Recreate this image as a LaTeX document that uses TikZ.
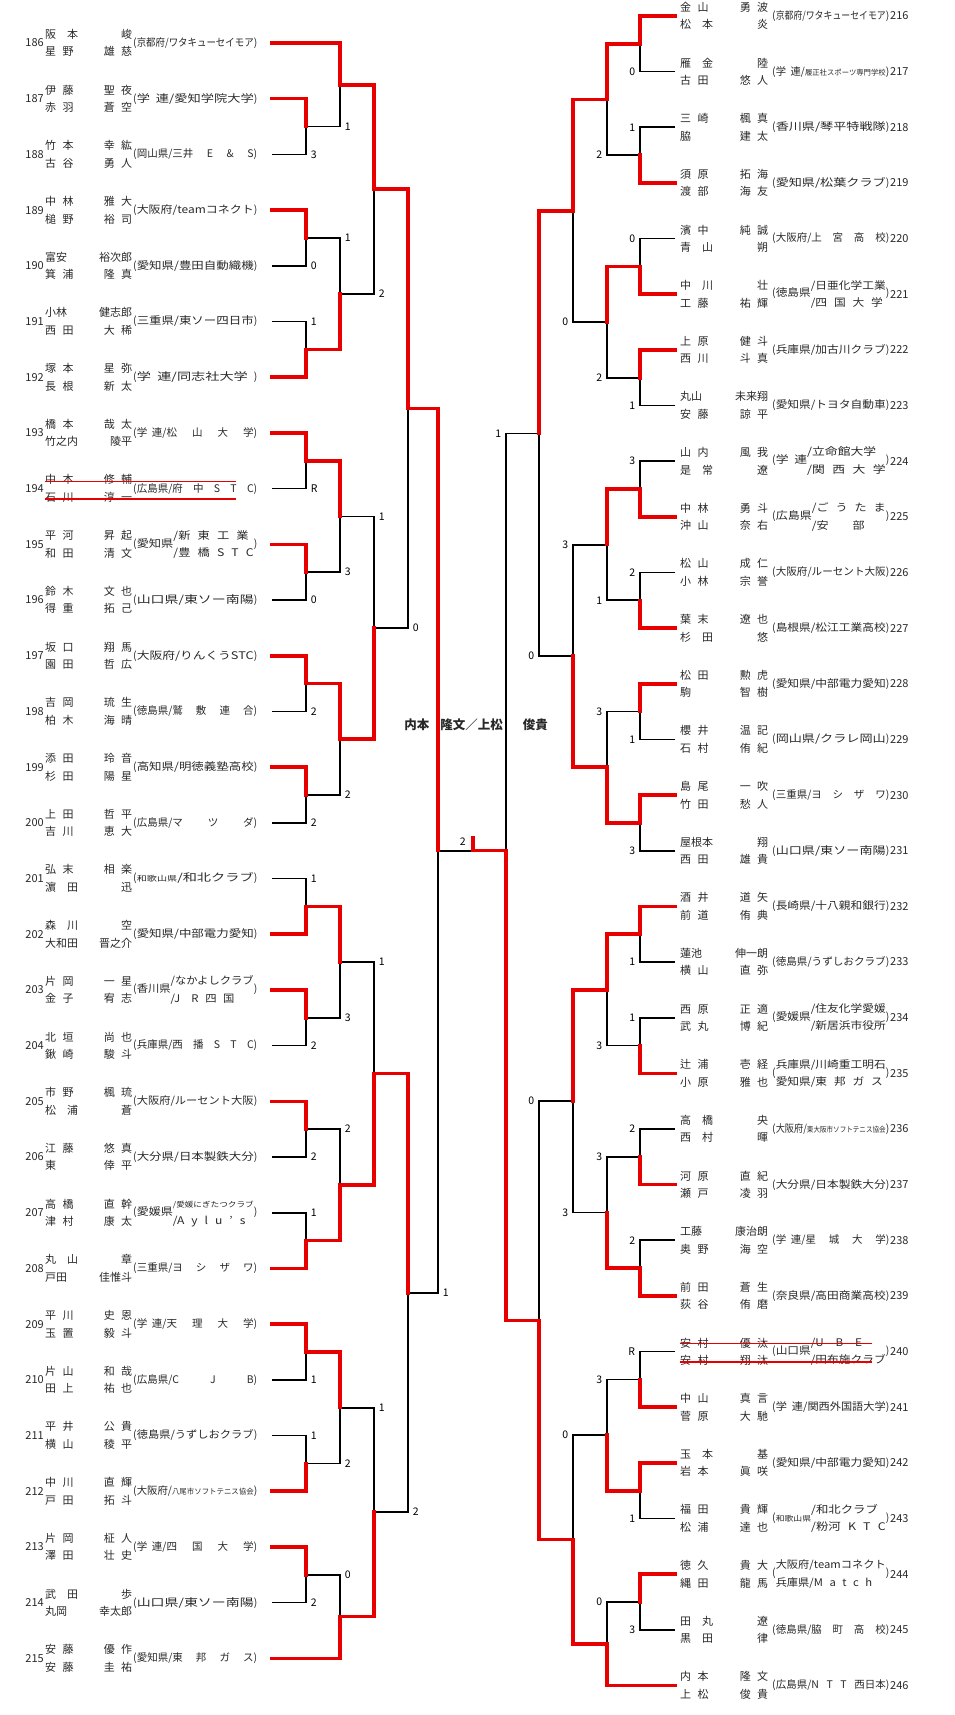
\documentclass[tikz,border=0pt]{standalone}
\usepackage{fontspec}
\usepackage{graphicx}
\setmainfont{Noto Sans CJK JP}[WordSpace=2.6]
\usetikzlibrary{calc}
\definecolor{bred}{RGB}{232,0,0}
\definecolor{ink}{RGB}{40,40,40}
\pgfdeclarelayer{front}
\pgfsetlayers{main,front}
\tikzset{
  win/.style={draw=bred, line width=3.6pt, line cap=rect},
  lose/.style={draw=black, line width=1.7pt},
  num/.style={inner sep=0pt, font=\fontsize{11}{13}\selectfont, text=ink},
  names/.style={inner sep=0pt, anchor=west, align=left,
    font=\fontsize{11}{17.5}\selectfont, text=ink},
  aff/.style={inner sep=0pt, anchor=west,
    font=\fontsize{10.5}{17.5}\selectfont, text=ink},
  scl/.style={anchor=west, inner sep=0pt, xshift=4pt,
    font=\fontsize{10.5}{12}\selectfont},
  scr/.style={anchor=east, inner sep=0pt, xshift=-4pt,
    font=\fontsize{10.5}{12}\selectfont},
  strike/.style={draw=bred, line width=1.4pt},
  champ/.style={inner sep=0pt, font=\fontsize{12.5}{14}\selectfont\bfseries, text=ink}
}
% affiliation squeezed, spread or widened to a fixed width
\newsavebox\fitbox
\newdimen\fitdim
\def\spchk#1 #2\spend{\def\spres{#2}}
\newcommand\fitw[2]{\sbox\fitbox{#2}\spchk#2 \spend
  \ifdim\wd\fitbox>#1\relax\resizebox{#1}{\height}{\usebox\fitbox}%
  \else\ifx\spres\empty
    \fitdim=1.35\wd\fitbox \ifdim\fitdim>#1\relax\fitdim=#1\relax\fi
    \makebox[#1][l]{\resizebox{\fitdim}{\height}{\usebox\fitbox}}%
  \else\makebox[#1][s]{#2}\fi\fi}
\newcommand\twol[2]{\begin{tabular}{@{}l@{}}#1\\#2\end{tabular}}
\newcommand\tinyaff[1]{{\fontsize{7.5}{8}\selectfont #1}}
\newcommand\gk{学\hspace{.45em}連}
% left entry: number, names, club
\newcommand\lent[6]{%
  \pgfmathsetmacro\yy{43+55.7*(#1-186)}
  \node[num, anchor=east] (no#1) at (44,\yy) {#1};
  \node[names] (nm#1) at (45,\yy)
    {\makebox[87pt][l]{#2\hfill #3}\\\makebox[87pt][l]{#4\hfill #5}};
  \node[aff] (af#1) at (133,\yy) {(\fitw{117pt}{#6})};
  \coordinate (e#1) at (272,\yy);
}
% right entry
\newcommand\rent[6]{%
  \pgfmathsetmacro\yy{16+55.65*(#1-216)}
  \node[names] (nm#1) at (680,\yy)
    {\makebox[88pt][l]{#2\hfill #3}\\\makebox[88pt][l]{#4\hfill #5}};
  \node[aff] (af#1) at (772,\yy) {(\fitw{110pt}{#6})};
  \node[num, anchor=west] (no#1) at (890,\yy) {#1};
  \coordinate (e#1) at (675,\yy);
}
% match: level, name, winner, loser, score
\newcommand\mtl[5]{%
  \coordinate (t) at ($(#3)!.5!(#4)$);
  \coordinate (#2) at (t -| #1);
  \draw[lose] (#4) -| node[pos=.5, scl] {#5} (#2);
  \begin{pgfonlayer}{front}\draw[win] (#3) -| (#2);\end{pgfonlayer}
}
\newcommand\mtr[5]{%
  \coordinate (t) at ($(#3)!.5!(#4)$);
  \coordinate (#2) at (t -| #1);
  \draw[lose] (#4) -| node[pos=.5, scr] {#5} (#2);
  \begin{pgfonlayer}{front}\draw[win] (#3) -| (#2);\end{pgfonlayer}
}

\begin{document}
\begin{tikzpicture}[x=1pt, y=-1pt]
  \useasboundingbox (0,0) rectangle (954,1715);
  \foreach \lv/\xx in {L1/306, L2/340, L3/374, L4/408, L5/438,
      R1/640, R2/607, R3/573, R4/539, R5/506, C/473}
    \coordinate (\lv) at (\xx,0);

  % left half
  \lent{186}{阪　本}{峻}{星 野}{雄 慈}{京都府/ワタキューセイモア}
  \lent{187}{伊 藤}{聖 夜}{赤 羽}{蒼 空}{\gk/愛知学院大学}
  \lent{188}{竹 本}{幸 紘}{古 谷}{勇 人}{岡山県/三井 E \& S}
  \lent{189}{中 林}{雅 大}{槌 野}{裕 司}{大阪府/teamコネクト}
  \lent{190}{富安}{裕次郎}{箕 浦}{隆 真}{愛知県/豊田自動織機}
  \lent{191}{小林}{健志郎}{西 田}{大 稀}{三重県/東ソー四日市}
  \lent{192}{塚 本}{星 弥}{長 根}{新 太}{\gk/同志社大学}
  \lent{193}{橋 本}{哉 太}{竹之内}{陵平}{\gk/松 山 大 学}
  \lent{194}{中 本}{修 輔}{石 川}{淳 一}{広島県/府 中 S T C}
  \lent{195}{平 河}{昇 起}{和 田}{清 文}{愛知県\twol{/新 東 工 業}{/豊 橋 S T C}}
  \lent{196}{鈴 木}{文 也}{得 重}{拓 己}{山口県/東ソー南陽}
  \lent{197}{坂 口}{翔 馬}{園 田}{哲 広}{大阪府/りんくうSTC}
  \lent{198}{吉 岡}{琉 生}{柏 木}{海 晴}{徳島県/鷲 敷 連 合}
  \lent{199}{添 田}{玲 音}{杉 田}{陽 星}{高知県/明徳義塾高校}
  \lent{200}{上 田}{哲 平}{吉 川}{恵 大}{広島県/マ ツ ダ}
  \lent{201}{弘 末}{相 楽}{濵　田}{迅}{\tinyaff{和歌山県}/和北クラブ}
  \lent{202}{森　川}{空}{大和田}{晋之介}{愛知県/中部電力愛知}
  \lent{203}{片 岡}{一 星}{金 子}{宥 志}{香川県\twol{/なかよしクラブ}{/J　R 四 国}}
  \lent{204}{北 垣}{尚 也}{鍬 崎}{駿 斗}{兵庫県/西 播 S T C}
  \lent{205}{市 野}{楓 琉}{松　浦}{蒼}{大阪府/ルーセント大阪}
  \lent{206}{江 藤}{悠 真}{東}{倖 平}{大分県/日本製鉄大分}
  \lent{207}{高 橋}{直 幹}{津 村}{康 太}{愛媛県\twol{\tinyaff{/愛媛にぎたつクラブ}}{/A y l u ' s}}
  \lent{208}{丸　山}{章}{戸田}{佳惟斗}{三重県/ヨ シ ザ ワ}
  \lent{209}{平 川}{史 恩}{玉 置}{毅 斗}{\gk/天 理 大 学}
  \lent{210}{片 山}{和 哉}{田 上}{祐 也}{広島県/C J B}
  \lent{211}{平 井}{公 貴}{横 山}{稜 平}{徳島県/うずしおクラブ}
  \lent{212}{中 川}{直 輝}{戸 田}{拓 斗}{大阪府/\tinyaff{八尾市ソフトテニス協会}}
  \lent{213}{片 岡}{柾 人}{澤 田}{壮 史}{\gk/四 国 大 学}
  \lent{214}{武　田}{歩}{丸岡}{幸太郎}{山口県/東ソー南陽}
  \lent{215}{安 藤}{優 作}{安 藤}{圭 祐}{愛知県/東 邦 ガ ス}

  % right half
  \rent{216}{金 山}{勇 波}{松　本}{炎}{京都府/ワタキューセイモア}
  \rent{217}{雁　金}{陸}{古 田}{悠 人}{\gk/\tinyaff{履正社スポーツ専門学校}}
  \rent{218}{三 崎}{楓 真}{脇}{建 太}{香川県/琴平特戦隊}
  \rent{219}{須 原}{拓 海}{渡 部}{海 友}{愛知県/松葉クラブ}
  \rent{220}{濱 中}{純 誠}{青　山}{朔}{大阪府/上 宮 高 校}
  \rent{221}{中　川}{壮}{工 藤}{祐 輝}{徳島県\twol{/日亜化学工業}{/四 国 大 学}}
  \rent{222}{上 原}{健 斗}{西 川}{斗 真}{兵庫県/加古川クラブ}
  \rent{223}{丸山}{未来翔}{安 藤}{諒 平}{愛知県/トヨタ自動車}
  \rent{224}{山 内}{風 我}{是　常}{遼}{\gk\twol{/立命館大学}{/関 西 大 学}}
  \rent{225}{中 林}{勇 斗}{沖 山}{奈 右}{広島県\twol{/ご う た ま}{/安　　部}}
  \rent{226}{松 山}{成 仁}{小 林}{宗 誉}{大阪府/ルーセント大阪}
  \rent{227}{葉 末}{遼 也}{杉　田}{悠}{島根県/松江工業高校}
  \rent{228}{松 田}{勲 虎}{駒}{智 樹}{愛知県/中部電力愛知}
  \rent{229}{櫻 井}{温 記}{石 村}{侑 紀}{岡山県/クラレ岡山}
  \rent{230}{島 尾}{一 吹}{竹 田}{愁 人}{三重県/ヨ シ ザ ワ}
  \rent{231}{屋根本}{翔}{西 田}{雄 貴}{山口県/東ソー南陽}
  \rent{232}{酒 井}{道 矢}{前 道}{侑 典}{長崎県/十八親和銀行}
  \rent{233}{蓮池}{伸一朗}{横 山}{直 弥}{徳島県/うずしおクラブ}
  \rent{234}{西 原}{正 適}{武 丸}{博 紀}{愛媛県\twol{/住友化学愛媛}{/新居浜市役所}}
  \rent{235}{辻 浦}{壱 経}{小 原}{雅 也}{\twol{兵庫県/川崎重工明石}{愛知県/東 邦 ガ ス}}
  \rent{236}{高　橋}{央}{西　村}{暉}{大阪府/\tinyaff{東大阪市ソフトテニス協会}}
  \rent{237}{河 原}{直 紀}{瀬 戸}{凌 羽}{大分県/日本製鉄大分}
  \rent{238}{工藤}{康治朗}{奥 野}{海 空}{\gk/星 城 大 学}
  \rent{239}{前 田}{蒼 生}{荻 谷}{侑 磨}{奈良県/高田商業高校}
  \rent{240}{安 村}{優 汰}{安 村}{翔 汰}{山口県\twol{/U　B　E}{/田布施クラブ}}
  \rent{241}{中 山}{真 言}{菅 原}{大 馳}{\gk/関西外国語大学}
  \rent{242}{玉　本}{基}{岩 本}{眞 咲}{愛知県/中部電力愛知}
  \rent{243}{福 田}{貴 輝}{松 浦}{達 也}{\tinyaff{和歌山県}\twol{/和北クラブ}{/粉河 K T C}}
  \rent{244}{徳 久}{貴 大}{縄 田}{龍 馬}{\twol{大阪府/teamコネクト}{兵庫県/M a t c h}}
  \rent{245}{田　丸}{遼}{黒　田}{律}{徳島県/脇 町 高 校}
  \rent{246}{内 本}{隆 文}{上 松}{俊 貴}{広島県/N T T 西日本}

  % withdrawn pairs
  \coordinate (k194a) at (45,481.6);  \coordinate (k194b) at (236,481.6);
  \coordinate (k194c) at (45,499);    \coordinate (k194d) at (236,499);
  \coordinate (k240a) at (680,1343.6); \coordinate (k240b) at (872,1343.6);
  \coordinate (k240c) at (680,1362);   \coordinate (k240d) at (872,1362);
  \draw[strike] (k194a) -- (k194b);
  \draw[strike] (k194c) -- (k194d);
  \draw[strike] (k240a) -- (k240b);
  \draw[strike] (k240c) -- (k240d);

  % left rounds
  \mtl{L1}{ra187}{e187}{e188}{3}
  \mtl{L1}{ra189}{e189}{e190}{0}
  \mtl{L1}{ra191}{e192}{e191}{1}
  \mtl{L1}{ra193}{e193}{e194}{R}
  \mtl{L1}{ra195}{e195}{e196}{0}
  \mtl{L1}{ra197}{e197}{e198}{2}
  \mtl{L1}{ra199}{e199}{e200}{2}
  \mtl{L1}{ra201}{e202}{e201}{1}
  \mtl{L1}{ra203}{e203}{e204}{2}
  \mtl{L1}{ra205}{e205}{e206}{2}
  \mtl{L1}{ra207}{e208}{e207}{1}
  \mtl{L1}{ra209}{e209}{e210}{1}
  \mtl{L1}{ra211}{e212}{e211}{1}
  \mtl{L1}{ra213}{e213}{e214}{2}
  \mtl{L2}{rb186}{e186}{ra187}{1}
  \mtl{L2}{rb189}{ra191}{ra189}{1}
  \mtl{L2}{rb193}{ra193}{ra195}{3}
  \mtl{L2}{rb197}{ra197}{ra199}{2}
  \mtl{L2}{rb201}{ra201}{ra203}{3}
  \mtl{L2}{rb205}{ra207}{ra205}{2}
  \mtl{L2}{rb209}{ra209}{ra211}{2}
  \mtl{L2}{rb213}{e215}{ra213}{0}
  \mtl{L3}{rc186}{rb186}{rb189}{2}
  \mtl{L3}{rc193}{rb197}{rb193}{1}
  \mtl{L3}{rc201}{rb205}{rb201}{1}
  \mtl{L3}{rc209}{rb213}{rb209}{1}
  \mtl{L4}{rd186}{rc186}{rc193}{0}
  \mtl{L4}{rd201}{rc201}{rc209}{2}
  \mtl{L5}{re186}{rd186}{rd201}{1}

  % right rounds
  \mtr{R1}{ra216}{e216}{e217}{0}
  \mtr{R1}{ra218}{e219}{e218}{1}
  \mtr{R1}{ra220}{e221}{e220}{0}
  \mtr{R1}{ra222}{e222}{e223}{1}
  \mtr{R1}{ra224}{e225}{e224}{3}
  \mtr{R1}{ra226}{e227}{e226}{2}
  \mtr{R1}{ra228}{e228}{e229}{1}
  \mtr{R1}{ra230}{e230}{e231}{3}
  \mtr{R1}{ra232}{e232}{e233}{1}
  \mtr{R1}{ra234}{e235}{e234}{1}
  \mtr{R1}{ra236}{e237}{e236}{2}
  \mtr{R1}{ra238}{e239}{e238}{2}
  \mtr{R1}{ra240}{e241}{e240}{R}
  \mtr{R1}{ra242}{e242}{e243}{1}
  \mtr{R1}{ra244}{e244}{e245}{3}
  \mtr{R2}{rb216}{ra216}{ra218}{2}
  \mtr{R2}{rb220}{ra220}{ra222}{2}
  \mtr{R2}{rb224}{ra224}{ra226}{1}
  \mtr{R2}{rb228}{ra230}{ra228}{3}
  \mtr{R2}{rb232}{ra232}{ra234}{3}
  \mtr{R2}{rb236}{ra238}{ra236}{3}
  \mtr{R2}{rb240}{ra242}{ra240}{3}
  \mtr{R2}{rb244}{e246}{ra244}{0}
  \mtr{R3}{rc216}{rb216}{rb220}{0}
  \mtr{R3}{rc224}{rb228}{rb224}{3}
  \mtr{R3}{rc232}{rb232}{rb236}{3}
  \mtr{R3}{rc240}{rb244}{rb240}{0}
  \mtr{R4}{rd216}{rc216}{rc224}{0}
  \mtr{R4}{rd232}{rc240}{rc232}{0}

  % semi-final on the right meets the final line
  \coordinate (re216) at (re186 -| R5);
  \draw[lose] (rd216) -| node[pos=.5, scr] {1} (re216);
  \begin{pgfonlayer}{front}\draw[win] (rd232) -| (re216);\end{pgfonlayer}

  % final
  \coordinate (fin) at (re186 -| C);
  \coordinate (cup) at ($(fin)+(0,-13)$);
  \draw[lose] (re186) -- node[pos=1, anchor=south east, xshift=-3pt, yshift=1pt,
    font=\fontsize{10.5}{12}\selectfont] {2} (fin);
  \begin{pgfonlayer}{front}\draw[win] (re216) -- (fin) -- (cup);\end{pgfonlayer}
  \node[champ] (vic) at (476,725) {内本\hspace{11pt}隆文／上松\hspace{20pt}俊貴};
\end{tikzpicture}
\end{document}
